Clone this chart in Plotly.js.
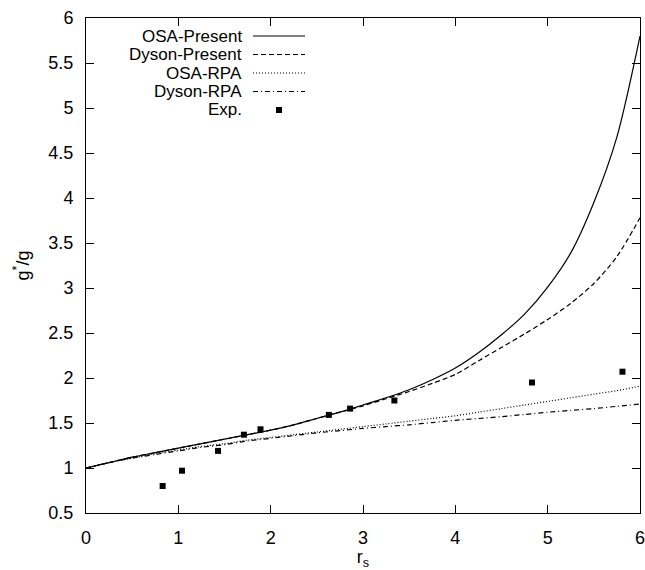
<!DOCTYPE html>
<html>
<head>
<meta charset="utf-8">
<script src="https://cdn.plot.ly/plotly-3.0.1.min.js"></script>
<style>html,body{margin:0;padding:0;background:#fff;}#chart{width:645px;height:570px;}</style>
</head>
<body>
<div id="chart"></div>
<script>
// ---- data ----
const rsGrid       = [0, 0.25, 0.5, 0.75, 1, 1.25, 1.5, 1.75, 2, 2.25, 2.5, 2.75, 3, 3.25, 3.5, 3.75, 4, 4.25, 4.5, 4.75, 5, 5.25, 5.5, 5.75, 6];
const osaPresent   = [1.00, 1.06, 1.12, 1.17, 1.22, 1.27, 1.32, 1.37, 1.42, 1.48, 1.55, 1.62, 1.70, 1.78, 1.87, 1.98, 2.11, 2.28, 2.48, 2.71, 3.01, 3.39, 3.95, 4.68, 5.80];
const dysonPresent = [1.00, 1.06, 1.12, 1.17, 1.22, 1.27, 1.32, 1.37, 1.42, 1.48, 1.55, 1.62, 1.69, 1.77, 1.85, 1.94, 2.04, 2.19, 2.34, 2.49, 2.65, 2.83, 3.05, 3.35, 3.78];
const osaRPA       = [1.00, 1.06, 1.11, 1.16, 1.20, 1.24, 1.27, 1.31, 1.34, 1.37, 1.40, 1.43, 1.46, 1.49, 1.52, 1.55, 1.58, 1.62, 1.66, 1.70, 1.74, 1.78, 1.82, 1.86, 1.91];
const dysonRPA     = [1.00, 1.06, 1.11, 1.15, 1.19, 1.23, 1.26, 1.30, 1.33, 1.36, 1.39, 1.415, 1.44, 1.46, 1.48, 1.505, 1.53, 1.55, 1.57, 1.595, 1.62, 1.64, 1.66, 1.685, 1.71];
const expRs        = [0.83, 1.04, 1.43, 1.71, 1.89, 2.63, 2.86, 3.34, 4.83, 5.81];
const expG         = [0.80, 0.97, 1.19, 1.37, 1.43, 1.59, 1.66, 1.75, 1.95, 2.07];
const seriesNames  = ['OSA-Present', 'Dyson-Present', 'OSA-RPA', 'Dyson-RPA', 'Exp.'];
const xTickVals    = [0, 1, 2, 3, 4, 5, 6];
const yTickVals    = [0.5, 1, 1.5, 2, 2.5, 3, 3.5, 4, 4.5, 5, 5.5, 6];

const FONT = 'Liberation Sans, Arial, Helvetica, sans-serif';
const dashes = ['solid', '5px,3px', '1px,2px', '5px,3px,1px,3px'];
const curves = [osaPresent, dysonPresent, osaRPA, dysonRPA];

const traces = curves.map((ys, i) => ({
  x: rsGrid, y: ys, type: 'scatter', mode: 'lines', name: seriesNames[i],
  line: {color: '#000', width: 1.2, dash: dashes[i], shape: 'spline', smoothing: 0.8},
  showlegend: false, hoverinfo: 'skip', cliponaxis: true
}));
traces.push({
  x: expRs, y: expG, type: 'scatter', mode: 'markers', name: seriesNames[4],
  marker: {symbol: 'square', size: 6, color: '#000'}, showlegend: false
});

// custom gnuplot-style legend (text right-aligned, sample on the right)
const plotL = 86, plotW = 554, plotB = 513, plotH = 495;
const px2x = p => (p - plotL) / plotW;
const px2y = p => (plotB - p) / plotH;
const rowY = [36, 54.5, 73, 91.5, 110];
const annotations = [], shapes = [];
seriesNames.forEach((nm, i) => {
  annotations.push({
    xref: 'paper', yref: 'paper', x: px2x(243), y: px2y(rowY[i]),
    xanchor: 'right', yanchor: 'middle', text: nm, showarrow: false,
    font: {family: FONT, size: 17, color: '#000'}, borderpad: 0
  });
  if (i < 4) {
    shapes.push({
      type: 'line', xref: 'paper', yref: 'paper',
      x0: px2x(253), x1: px2x(305), y0: px2y(rowY[i]), y1: px2y(rowY[i]),
      line: {color: '#000', width: 1.2, dash: dashes[i]}
    });
  } else {
    shapes.push({
      type: 'rect', xref: 'paper', yref: 'paper',
      x0: px2x(276), x1: px2x(282), y0: px2y(rowY[i] - 3), y1: px2y(rowY[i] + 3),
      line: {width: 0}, fillcolor: '#000'
    });
  }
});

const axisBase = {
  showline: true, linecolor: '#000', linewidth: 1, mirror: 'ticks',
  ticks: 'inside', ticklen: 8, tickcolor: '#000', tickwidth: 1,
  showgrid: false, zeroline: false, ticklabeloverflow: 'allow',
  tickfont: {family: FONT, size: 18, color: '#000'}
};

const layout = {
  width: 645, height: 570,
  margin: {l: 86, r: 5, t: 18, b: 57},
  paper_bgcolor: '#fff', plot_bgcolor: '#fff',
  showlegend: false,
  xaxis: Object.assign({}, axisBase, {
    range: [0, 6], tickmode: 'array', tickvals: xTickVals, ticktext: xTickVals.map(String),
    ticklabelstandoff: 8,
    title: {text: 'r<sub>s</sub>', font: {family: FONT, size: 18, color: '#000'}, standoff: 2}
  }),
  yaxis: Object.assign({}, axisBase, {
    range: [0.5, 6], tickmode: 'array', tickvals: yTickVals, ticktext: yTickVals.map(String),
    ticklabelstandoff: 8,
    title: {text: 'g<sup>*</sup>/g', font: {family: FONT, size: 18, color: '#000'}, standoff: 14}
  }),
  annotations: annotations,
  shapes: shapes
};

Plotly.newPlot('chart', traces, layout, {displayModeBar: false, staticPlot: true});
</script>
</body>
</html>
